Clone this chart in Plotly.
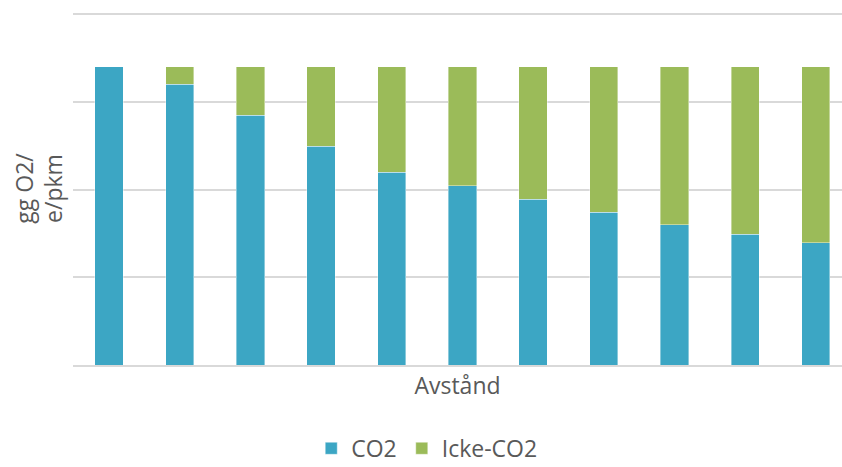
import plotly.graph_objects as go

# Distance steps (no labels shown on the axis)
steps = ["1", "2", "3", "4", "5", "6", "7", "8", "9", "10", "11"]

# Emissions per passenger-km, split into CO2 and non-CO2 effects
co2 = [85.0, 80.0, 71.2, 62.4, 54.9, 51.1, 47.3, 43.6, 39.9, 37.3, 34.9]
non_co2 = [0.0, 5.0, 13.8, 22.6, 30.1, 33.9, 37.7, 41.4, 45.1, 47.7, 50.1]

BLUE = "#3CA6C4"
GREEN = "#9BBB59"
TEXT = "#595959"
GRID = "#D9D9D9"
FONT = "Open Sans"
SIZE = 23

fig = go.Figure()
fig.add_trace(go.Bar(
    x=steps, y=co2, name="CO2",
    marker=dict(color=BLUE, line=dict(color="rgba(255,255,255,0.5)", width=0.8)),
))
fig.add_trace(go.Bar(
    x=steps, y=non_co2, name="Icke-CO2",
    marker=dict(color=GREEN, line=dict(color="rgba(255,255,255,0.5)", width=0.8)),
))

fig.update_layout(
    barmode="stack",
    bargap=0.6,
    width=842, height=467,
    margin=dict(l=73, r=0, t=12, b=102),
    paper_bgcolor="white",
    plot_bgcolor="white",
    font=dict(family=FONT, size=SIZE, color=TEXT),
    showlegend=True,
    legend=dict(
        orientation="h",
        x=0.46, xanchor="center",
        yref="container",
        y=0.04, yanchor="middle",
        font=dict(family=FONT, size=SIZE, color=TEXT),
        traceorder="normal",
    ),
    xaxis=dict(
        type="category",
        range=[-0.51, 10.37],
        showticklabels=False,
        ticks="",
        showgrid=False,
        showline=True,
        linecolor=GRID,
        linewidth=2,
        title=dict(text="Avstånd", standoff=12,
                   font=dict(family=FONT, size=SIZE, color=TEXT)),
    ),
    yaxis=dict(
        range=[0, 100.6],
        tick0=0, dtick=25,
        showticklabels=False,
        ticks="",
        showgrid=True,
        gridcolor=GRID,
        gridwidth=2,
        zeroline=False,
        title=dict(text="gg O2/<br>e/pkm", standoff=2,
                   font=dict(family=FONT, size=SIZE, color=TEXT)),
    ),
)

fig.write_html("out.html")
